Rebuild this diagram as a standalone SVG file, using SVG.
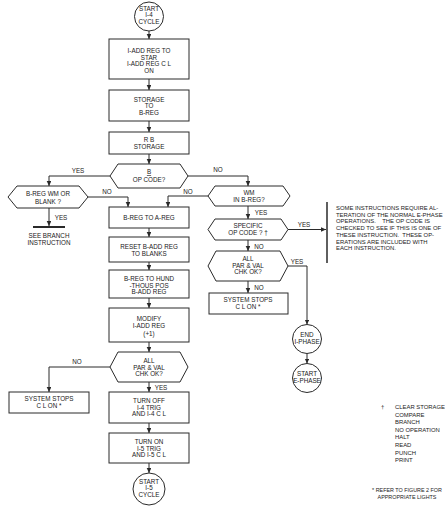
<svg xmlns="http://www.w3.org/2000/svg" width="445" height="515" viewBox="0 0 445 515">
<style>
  .n { fill: #ffffff; stroke: #2a2a2a; stroke-width: 1; }
  .t { font-family: "Liberation Sans", Arial, sans-serif; font-size: 6.3px; fill: #1a1a1a; text-anchor: middle; }
  .l { font-family: "Liberation Sans", Arial, sans-serif; font-size: 6.3px; fill: #1a1a1a; text-anchor: middle; }
  .note { font-family: "Liberation Sans", Arial, sans-serif; font-size: 5.9px; fill: #1a1a1a; white-space: pre; }
  .fn { font-family: "Liberation Sans", Arial, sans-serif; font-size: 5.4px; fill: #1a1a1a; text-anchor: middle; }
  .c { fill: none; stroke: #2a2a2a; stroke-width: 1; }
  .bar { fill: none; stroke: #2a2a2a; stroke-width: 2; }
</style>
<defs>
  <marker id="ah" markerUnits="userSpaceOnUse" markerWidth="5" markerHeight="5" refX="5" refY="2.3" orient="auto">
    <path d="M0,0 L5,2.3 L0,4.6 Z" fill="#2a2a2a"/>
  </marker>
</defs>
<rect width="445" height="515" fill="#ffffff"/>

<g id="connectors">
  <path class="c" d="M149,31 V39" marker-end="url(#ah)"/>
  <path class="c" d="M149,79 V90" marker-end="url(#ah)"/>
  <path class="c" d="M149,121 V132" marker-end="url(#ah)"/>
  <path class="c" d="M149,154 V164" marker-end="url(#ah)"/>
  <path class="c" d="M110,176 H49 V186" marker-end="url(#ah)"/>
  <path class="c" d="M188,176 H248 V186" marker-end="url(#ah)"/>
  <path class="c" d="M49,208 V226" marker-end="url(#ah)"/>
  <path class="bar" d="M33,227 H65"/>
  <path class="c" d="M88,197 H128 V207" marker-end="url(#ah)"/>
  <path class="c" d="M208,196 H168 V207" marker-end="url(#ah)"/>
  <path class="c" d="M149,228 V237" marker-end="url(#ah)"/>
  <path class="c" d="M149,262 V270" marker-end="url(#ah)"/>
  <path class="c" d="M149,298 V308" marker-end="url(#ah)"/>
  <path class="c" d="M149,342 V352" marker-end="url(#ah)"/>
  <path class="c" d="M110,367 H49 V392" marker-end="url(#ah)"/>
  <path class="c" d="M149,382 V392" marker-end="url(#ah)"/>
  <path class="c" d="M149,423 V433" marker-end="url(#ah)"/>
  <path class="c" d="M149,463 V473" marker-end="url(#ah)"/>
  <path class="c" d="M248,206 V219" marker-end="url(#ah)"/>
  <path class="c" d="M248,240 V251" marker-end="url(#ah)"/>
  <path class="c" d="M248,281 V293" marker-end="url(#ah)"/>
  <path class="c" d="M288,229.5 H326" marker-end="url(#ah)"/>
  <path class="bar" d="M327,202 V263" style="stroke-width:1.5"/>
  <path class="c" d="M288,266 H307 V324.5" marker-end="url(#ah)"/>
  <path class="c" d="M307,353.5 V363.5" marker-end="url(#ah)"/>
  <text class="l" x="78" y="173">YES</text>
  <text class="l" x="218" y="172">NO</text>
  <text class="l" x="107" y="194">NO</text>
  <text class="l" x="188" y="194">NO</text>
  <text class="l" x="61" y="220">YES</text>
  <text class="l" x="261" y="215">YES</text>
  <text class="l" x="304" y="227">YES</text>
  <text class="l" x="259" y="249">NO</text>
  <text class="l" x="297" y="264">YES</text>
  <text class="l" x="259" y="290">NO</text>
  <text class="l" x="77" y="364">NO</text>
  <text class="l" x="161" y="390">YES</text>
</g>

<g id="start-i4">
  <circle class="n" cx="149" cy="16.5" r="14.5"/>
  <text class="t" x="149" y="11">START</text>
  <text class="t" x="149" y="17.3">I-4</text>
  <text class="t" x="149" y="23.6">CYCLE</text>
</g>

<g id="iadd-to-star">
  <rect class="n" x="109" y="39" width="80" height="40"/>
  <text class="t" x="149" y="53">I-ADD REG TO</text>
  <text class="t" x="149" y="59.5">STAR</text>
  <text class="t" x="149" y="66">I-ADD REG C L</text>
  <text class="t" x="149" y="72.5">ON</text>
</g>

<g id="storage-to-breg">
  <rect class="n" x="109" y="90" width="80" height="31"/>
  <text class="t" x="149" y="101.5">STORAGE</text>
  <text class="t" x="149" y="108">TO</text>
  <text class="t" x="149" y="114.5">B-REG</text>
</g>

<g id="rb-storage">
  <rect class="n" x="109" y="132" width="80" height="22"/>
  <text class="t" x="149" y="141.8">R B</text>
  <text class="t" x="149" y="148.6">STORAGE</text>
</g>

<g id="b-op-code">
  <polygon class="n" points="110,176 118,164 180,164 188,176 180,188 118,188"/>
  <text class="t" x="149" y="174" text-decoration="underline">B</text>
  <text class="t" x="149" y="181.8">OP CODE?</text>
</g>

<g id="breg-wm-blank">
  <polygon class="n" points="8,197 17,186 79,186 88,197 79,208 17,208"/>
  <text class="t" x="48" y="196">B-REG WM OR</text>
  <text class="t" x="48" y="203.5">BLANK ?</text>
</g>

<g id="see-branch">
  <text class="t" x="49" y="238">SEE BRANCH</text>
  <text class="t" x="49" y="244.5">INSTRUCTION</text>
</g>

<g id="breg-to-areg">
  <rect class="n" x="109" y="207" width="80" height="21"/>
  <text class="t" x="149" y="220">B-REG TO A-REG</text>
</g>

<g id="reset-badd">
  <rect class="n" x="109" y="237" width="80" height="25"/>
  <text class="t" x="149" y="249">RESET B-ADD REG</text>
  <text class="t" x="149" y="255.5">TO BLANKS</text>
</g>

<g id="breg-to-hund">
  <rect class="n" x="109" y="270" width="80" height="28"/>
  <text class="t" x="149" y="281">B-REG TO HUND</text>
  <text class="t" x="149" y="287.5">-THOUS POS</text>
  <text class="t" x="149" y="294">B-ADD REG</text>
</g>

<g id="modify-iadd">
  <rect class="n" x="109" y="308" width="80" height="34"/>
  <text class="t" x="149" y="321">MODIFY</text>
  <text class="t" x="149" y="328">I-ADD REG</text>
  <text class="t" x="149" y="335.5">(+1)</text>
</g>

<g id="all-par-val-main">
  <polygon class="n" points="110,367 118,352 180,352 188,367 180,382 118,382"/>
  <text class="t" x="149" y="363">ALL</text>
  <text class="t" x="149" y="369.5">PAR &amp; VAL</text>
  <text class="t" x="149" y="376">CHK OK?</text>
</g>

<g id="system-stops-left">
  <rect class="n" x="9" y="392" width="80" height="21"/>
  <text class="t" x="49" y="401">SYSTEM STOPS</text>
  <text class="t" x="49" y="407.5">C L ON *</text>
</g>

<g id="turn-off-i4">
  <rect class="n" x="109" y="392" width="80" height="31"/>
  <text class="t" x="149" y="403">TURN OFF</text>
  <text class="t" x="149" y="409.5">I-4 TRIG</text>
  <text class="t" x="149" y="416">AND I-4 C L</text>
</g>

<g id="turn-on-i5">
  <rect class="n" x="109" y="433" width="80" height="30"/>
  <text class="t" x="149" y="444">TURN ON</text>
  <text class="t" x="149" y="450.5">I-5 TRIG</text>
  <text class="t" x="149" y="457">AND I-5 C L</text>
</g>

<g id="start-i5">
  <circle class="n" cx="149" cy="489" r="16"/>
  <text class="t" x="149" y="483.5">START</text>
  <text class="t" x="149" y="490">I-5</text>
  <text class="t" x="149" y="496.5">CYCLE</text>
</g>

<g id="wm-in-breg">
  <polygon class="n" points="208,196 215,186 283,186 290,196 283,206 215,206"/>
  <text class="t" x="249" y="194.7">WM</text>
  <text class="t" x="249" y="201.7">IN B-REG?</text>
</g>

<g id="specific-op-code">
  <polygon class="n" points="208,229.5 215,219 281,219 288,229.5 281,240 215,240"/>
  <text class="t" x="248" y="228">SPECIFIC</text>
  <text class="t" x="248" y="234.5">OP CODE ? †</text>
</g>

<g id="all-par-val-right">
  <polygon class="n" points="208,266 216,251 280,251 288,266 280,281 216,281"/>
  <text class="t" x="248" y="261">ALL</text>
  <text class="t" x="248" y="267.5">PAR &amp; VAL</text>
  <text class="t" x="248" y="274">CHK OK?</text>
</g>

<g id="system-stops-right">
  <rect class="n" x="209" y="293" width="79" height="21"/>
  <text class="t" x="248" y="302">SYSTEM STOPS</text>
  <text class="t" x="248" y="308.5">C L ON *</text>
</g>

<g id="end-i-phase">
  <circle class="n" cx="307" cy="339" r="14.5"/>
  <text class="t" x="307" y="337">END</text>
  <text class="t" x="307" y="343.5">I-PHASE</text>
</g>

<g id="start-e-phase">
  <circle class="n" cx="307" cy="378" r="14.5"/>
  <text class="t" x="307" y="376">START</text>
  <text class="t" x="307" y="382.5">E-PHASE</text>
</g>

<g id="note-text">
  <text class="note" x="336" y="210">SOME INSTRUCTIONS REQUIRE AL-</text>
  <text class="note" x="336" y="216.7">TERATION OF THE NORMAL E-PHASE</text>
  <text class="note" x="336" y="223.4">OPERATIONS.    THE OP CODE IS</text>
  <text class="note" x="336" y="230.1">CHECKED TO SEE IF THIS IS ONE OF</text>
  <text class="note" x="336" y="236.8">THESE INSTRUCTION.  THESE OP-</text>
  <text class="note" x="336" y="243.5">ERATIONS ARE INCLUDED WITH</text>
  <text class="note" x="336" y="250.2">EACH INSTRUCTION.</text>
</g>

<g id="footnotes">
  <text class="note" x="381" y="409">†</text>
  <text class="note" x="395" y="409">CLEAR STORAGE</text>
  <text class="note" x="395" y="416.6">COMPARE</text>
  <text class="note" x="395" y="424.2">BRANCH</text>
  <text class="note" x="395" y="431.8">NO OPERATION</text>
  <text class="note" x="395" y="439.4">HALT</text>
  <text class="note" x="395" y="447">READ</text>
  <text class="note" x="395" y="454.6">PUNCH</text>
  <text class="note" x="395" y="462.2">PRINT</text>
  <text class="fn" x="407" y="492">* REFER TO FIGURE 2 FOR</text>
  <text class="fn" x="407" y="499">APPROPRIATE LIGHTS</text>
</g>
</svg>
